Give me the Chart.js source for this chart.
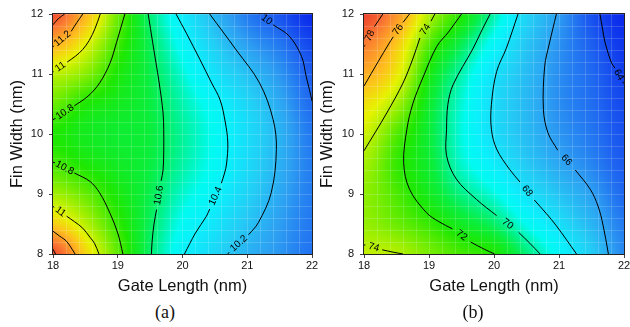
<!DOCTYPE html>
<html>
<head>
<meta charset="utf-8">
<script src="https://cdn.jsdelivr.net/npm/chart.js@4.4.1/dist/chart.umd.min.js"></script>
<style>
  html, body { margin: 0; padding: 0; background: #fff; }
  body { width: 630px; height: 327px; overflow: hidden; position: relative; }
  .box { position: absolute; top: 0; height: 300px; }
  #boxA { left: 0; width: 320px; }
  #boxB { left: 310px; width: 330px; }
  .cap { position: absolute; top: 302px; width: 60px; text-align: center;
         font-family: "Liberation Serif", serif; font-size: 18px; color: #111; }
</style>
</head>
<body>
<div class="box" id="boxA"><canvas id="chartA" width="320" height="300"></canvas></div>
<div class="box" id="boxB"><canvas id="chartB" width="330" height="300"></canvas></div>
<div class="cap" style="left:135px">(a)</div>
<div class="cap" style="left:443px">(b)</div>
<script>
/* ================= DATA ================= */
// grid nodes of the shaded field
const gateLength = [18, 18.5, 19, 19.5, 20, 20.5, 21, 21.5, 22];
const finWidth = [8, 8.5, 9, 9.5, 10, 10.5, 11, 11.5, 12];
const xTicks = [18, 19, 20, 21, 22];
const yTicks = [8, 9, 10, 11, 12];

// (a) values, one row per fin width (8 -> 12)
const fieldA = [
  [11.50, 11.12, 10.84, 10.600, 10.41, 10.30, 10.18, 10.10, 10.02],
  [11.14, 10.97, 10.78, 10.615, 10.45, 10.35, 10.23, 10.12, 10.03],
  [10.94, 10.85, 10.73, 10.630, 10.50, 10.41, 10.28, 10.15, 10.04],
  [10.81, 10.74, 10.69, 10.645, 10.54, 10.44, 10.31, 10.17, 10.04],
  [10.75, 10.70, 10.67, 10.650, 10.55, 10.45, 10.32, 10.18, 10.03],
  [10.86, 10.75, 10.70, 10.645, 10.53, 10.42, 10.29, 10.15, 10.00],
  [10.98, 10.90, 10.74, 10.635, 10.49, 10.34, 10.22, 10.10, 9.97],
  [11.22, 11.04, 10.80, 10.620, 10.43, 10.26, 10.12, 10.03, 9.92],
  [11.50, 11.20, 10.86, 10.590, 10.38, 10.19, 10.04, 9.95, 9.85]
];

// (b) values
const fieldB = [
  [74.2, 74.0, 73.2, 72.5, 72.0, 70.4, 68.9, 67.3, 65.5],
  [73.6, 73.0, 72.3, 71.4, 70.6, 69.2, 67.95, 66.6, 65.2],
  [73.5, 72.6, 71.5, 70.3, 69.4, 68.1, 67.0, 66.0, 64.8],
  [73.8, 72.3, 71.2, 69.6, 68.5, 67.2, 66.2, 65.4, 64.5],
  [74.4, 72.7, 71.1, 69.4, 67.9, 66.8, 65.8, 65.1, 64.3],
  [75.2, 73.8, 71.3, 69.5, 67.85, 66.7, 65.6, 64.9, 64.1],
  [76.5, 75.0, 71.8, 69.9, 68.1, 66.8, 65.6, 64.8, 63.9],
  [77.9, 75.8, 72.7, 70.8, 68.9, 67.1, 65.7, 64.6, 63.7],
  [79.4, 77.2, 74.0, 72.0, 69.9, 67.6, 65.95, 64.3, 63.4]
];

// contour lines, [gate length, fin width]; null = label gap
const a114top = [[18, 11.82], [18.08, 11.92], [18.18, 12]];
const a112top = [[18, 11.45], [18.01, 11.47], null, [18.28, 11.71], [18.37, 11.86], [18.46, 12]];
const a110top = [[18, 11.03], [18.01, 11.04], null, [18.22, 11.2], [18.35, 11.3], [18.46, 11.41], [18.56, 11.56], [18.65, 11.76], [18.73, 12]];
const a108top = [[18, 10.24], [18.04, 10.26], null, [18.33, 10.47], [18.54, 10.63], [18.72, 10.85], [18.88, 11.18], [18.98, 11.52], [19.05, 11.78], [19.11, 12]];
const a108bot = [[18, 9.53], [18.03, 9.52], null, [18.33, 9.35], [18.57, 9.21], [18.72, 9.02], [18.88, 8.68], [19.0, 8.35], [19.08, 8]];
const a110bot = [[18, 8.79], [18.02, 8.78], null, [18.21, 8.63], [18.33, 8.54], [18.46, 8.43], [18.57, 8.28], [18.64, 8.18], [18.71, 8]];
const a112bot = [[18, 8.38], [18.1, 8.3], [18.21, 8.21], [18.33, 8.02], [18.34, 8]];
const a114bot = [[18, 8.08], [18.04, 8]];
const a106 = [[19.47, 12], [19.54, 11.52], [19.64, 10.85], [19.7, 10.35], [19.71, 10.07], [19.71, 9.7], [19.7, 9.4], [19.67, 9.22], null, [19.6, 8.74], [19.56, 8.5], [19.53, 8.2], [19.52, 8]];
const a104 = [[19.9, 12], [20.06, 11.68], [20.27, 11.24], [20.45, 10.85], [20.58, 10.57], [20.66, 10.2], [20.7, 9.85], [20.68, 9.5], [20.65, 9.35], [20.6, 9.18], null, [20.42, 8.75], [20.37, 8.63], [20.2, 8.35], [20.03, 8]];
const a102 = [[20.42, 12], [20.83, 11.4], [21.19, 10.85], [21.4, 10.24], [21.45, 9.74], [21.37, 9.02], [21.17, 8.52], [21.02, 8.32], null, [20.72, 8.03], [20.7, 8]];
const a100 = [[21.19, 12], [21.2, 11.99], null, [21.4, 11.82], [21.65, 11.63], [21.84, 11.29], [21.91, 10.96], [21.96, 10.74], [22, 10.55]];

const b78 = [[18, 11.46], [18.02, 11.48], null, [18.16, 11.79], [18.29, 12]];
const b76 = [[18, 10.8], [18.22, 11.21], [18.38, 11.5], [18.45, 11.62], null, [18.6, 11.86], [18.7, 12]];
const b74top = [[18, 9.72], [18.35, 10.35], [18.6, 10.85], [18.75, 11.25], [18.86, 11.6], null, [19.03, 11.88], [19.09, 12]];
const b74bot = [[18, 8.15], [18.02, 8.15], null, [18.28, 8.07], [18.45, 8.03], [18.6, 8]];
const b72 = [[19.5, 12], [19.3, 11.7], [19.12, 11.46], [18.91, 10.95], [18.75, 10.5], [18.66, 10.08], [18.61, 9.52], [18.7, 9.08], [18.96, 8.69], [19.15, 8.54], [19.36, 8.42], null, [19.64, 8.2], [19.85, 8.08], [20.01, 8]];
const b70 = [[19.94, 12], [19.8, 11.7], [19.68, 11.43], [19.37, 10.82], [19.29, 10.49], [19.27, 10.08], [19.27, 9.64], [19.42, 9.25], [19.73, 8.91], [20.04, 8.64], null, [20.38, 8.36], [20.55, 8.18], [20.71, 8]];
const b68 = [[20.37, 12], [20.19, 11.43], [20.04, 11.04], [19.96, 10.49], [19.96, 10.08], [20.04, 9.75], [20.24, 9.41], [20.4, 9.2], null, [20.62, 8.9], [20.8, 8.68], [20.96, 8.47], [21.27, 8]];
const b66 = [[20.96, 12], [20.85, 11.5], [20.78, 11.13], [20.76, 10.41], [20.83, 10.02], [20.98, 9.73], null, [21.25, 9.4], [21.48, 9.08], [21.6, 8.8], [21.68, 8.47], [21.76, 8]];
const b64 = [[21.63, 12], [21.67, 11.75], [21.71, 11.52], [21.81, 11.18], [21.86, 11.1], null, [21.98, 10.87], [22, 10.84]];

const contoursA = [
  ["11.4", a114top], ["11.2", a112top], ["11", a110top], ["10.8", a108top],
  ["10.8", a108bot], ["11", a110bot], ["11.2", a112bot], ["11.4", a114bot],
  ["10.6", a106], ["10.4", a104], ["10.2", a102], ["10", a100]
];
const contoursB = [
  ["78", b78], ["76", b76], ["74", b74top], ["74", b74bot], ["72", b72],
  ["70", b70], ["68", b68], ["66", b66], ["64", b64]
];

/* ================= COLOUR MAP ================= */
const stops = [
  [0.00, [10, 40, 235]],
  [0.08, [30, 100, 240]],
  [0.16, [45, 160, 242]],
  [0.24, [35, 205, 245]],
  [0.32, [10, 240, 252]],
  [0.36, [0, 250, 240]],
  [0.42, [0, 242, 140]],
  [0.47, [10, 238, 60]],
  [0.53, [30, 232, 0]],
  [0.62, [140, 238, 0]],
  [0.70, [230, 242, 0]],
  [0.78, [255, 190, 30]],
  [0.90, [250, 120, 50]],
  [1.00, [235, 60, 45]]
];

function colorAt(t) {
  t = Math.max(0, Math.min(1, t));
  for (let i = 1; i < stops.length; i++) {
    if (t <= stops[i][0]) {
      const [t0, c0] = stops[i - 1], [t1, c1] = stops[i];
      const k = (t - t0) / (t1 - t0);
      return c0.map((c, j) => c + (c1[j] - c) * k);
    }
  }
  return stops[stops.length - 1][1];
}

// smooth shading between grid nodes (catmull-rom)
function cubic(p0, p1, p2, p3, t) {
  return p1 + 0.5 * t * (p2 - p0 + t * (2 * p0 - 5 * p1 + 4 * p2 - p3 + t * (3 * (p1 - p2) + p3 - p0)));
}
function sample(f, gx, gy) {
  const rows = f.length, cols = f[0].length;
  const at = (r, c) => f[Math.max(0, Math.min(rows - 1, r))][Math.max(0, Math.min(cols - 1, c))];
  const ix = Math.max(0, Math.min(cols - 2, Math.floor(gx)));
  const iy = Math.max(0, Math.min(rows - 2, Math.floor(gy)));
  const tx = gx - ix, ty = gy - iy;
  const r = [];
  for (let k = -1; k <= 2; k++) {
    r.push(cubic(at(iy + k, ix - 1), at(iy + k, ix), at(iy + k, ix + 1), at(iy + k, ix + 2), tx));
  }
  return cubic(r[0], r[1], r[2], r[3], ty);
}

/* ================= PLUGINS ================= */
const heatmap = {
  id: "heatmap",
  beforeDatasetsDraw(chart, args, opts) {
    const { ctx, chartArea: a, scales: { x, y } } = chart;
    const w = Math.round(a.right - a.left), h = Math.round(a.bottom - a.top);
    const off = document.createElement("canvas");
    off.width = w; off.height = h;
    const octx = off.getContext("2d");
    const img = octx.createImageData(w, h);
    const dx = gateLength[1] - gateLength[0], dy = finWidth[1] - finWidth[0];
    for (let j = 0; j < h; j++) {
      const gy = (y.getValueForPixel(a.top + j + 0.5) - finWidth[0]) / dy;
      for (let i = 0; i < w; i++) {
        const gx = (x.getValueForPixel(a.left + i + 0.5) - gateLength[0]) / dx;
        const v = sample(opts.field, gx, gy);
        const c = colorAt((v - opts.min) / (opts.max - opts.min));
        const p = (j * w + i) * 4;
        img.data[p] = c[0]; img.data[p + 1] = c[1]; img.data[p + 2] = c[2]; img.data[p + 3] = 255;
      }
    }
    octx.putImageData(img, 0, 0);
    ctx.drawImage(off, a.left, a.top);

    // faint white mesh
    ctx.save();
    ctx.strokeStyle = "rgba(255,255,255,0.16)";
    ctx.lineWidth = 1;
    ctx.beginPath();
    for (let v = 18.2; v < 22; v += 0.2) {
      const px = Math.round(x.getPixelForValue(v)) + 0.5;
      ctx.moveTo(px, a.top); ctx.lineTo(px, a.bottom);
    }
    for (let v = 8.2; v < 12; v += 0.2) {
      const py = Math.round(y.getPixelForValue(v)) + 0.5;
      ctx.moveTo(a.left, py); ctx.lineTo(a.right, py);
    }
    ctx.stroke();
    ctx.restore();
  },
  afterDatasetsDraw(chart, args, opts) {
    const { ctx, chartArea: a, scales: { x, y } } = chart;
    ctx.save();
    ctx.font = "10px 'Liberation Sans', Arial, sans-serif";
    ctx.fillStyle = "#000";
    ctx.textAlign = "center";
    ctx.textBaseline = "middle";
    opts.contours.forEach(([label, pts]) => {
      pts.forEach((p, i) => {
        if (p !== null) return;
        const p0 = pts[i - 1], p1 = pts[i + 1];
        const x0 = x.getPixelForValue(p0[0]), y0 = y.getPixelForValue(p0[1]);
        const x1 = x.getPixelForValue(p1[0]), y1 = y.getPixelForValue(p1[1]);
        let ang = Math.atan2(y1 - y0, x1 - x0);
        if (ang >= Math.PI / 2) ang -= Math.PI;
        if (ang < -Math.PI / 2) ang += Math.PI;
        ctx.save();
        ctx.translate((x0 + x1) / 2, (y0 + y1) / 2);
        ctx.rotate(ang);
        ctx.fillText(label, 0, 0);
        ctx.restore();
      });
    });
    ctx.strokeStyle = "#222";
    ctx.lineWidth = 1;
    ctx.strokeRect(Math.round(a.left) - 0.5, Math.round(a.top) - 0.5,
      Math.round(a.right - a.left) + 1, Math.round(a.bottom - a.top) + 1);
    ctx.restore();
  }
};

/* ================= CHARTS ================= */
function lineSets(contours) {
  const sets = [];
  contours.forEach(([label, pts]) => {
    let seg = [];
    pts.concat([null]).forEach(p => {
      if (p === null) {
        if (seg.length > 1) sets.push(seg);
        seg = [];
      } else {
        seg.push({ x: p[0], y: p[1] });
      }
    });
  });
  return sets.map(data => ({
    data,
    showLine: true,
    borderColor: "#000",
    borderWidth: 1,
    pointRadius: 0,
    tension: 0.35
  }));
}

const font = { family: "'Liberation Sans', Arial, sans-serif" };

function makeChart(id, field, min, max, contours, yWidth, padRight) {
  return new Chart(document.getElementById(id), {
    type: "scatter",
    data: { datasets: lineSets(contours) },
    options: {
      responsive: false,
      animation: false,
      layout: { padding: { top: 14, right: padRight, left: 0, bottom: 0 } },
      plugins: {
        legend: { display: false },
        tooltip: { enabled: false },
        heatmap: { field, min, max, contours }
      },
      scales: {
        x: {
          type: "linear",
          min: 18, max: 22,
          afterBuildTicks: s => { s.ticks = xTicks.map(v => ({ value: v })); },
          afterFit: s => { s.height = 46; },
          grid: { drawOnChartArea: false, tickLength: 4, color: "#444" },
          border: { display: false },
          ticks: { padding: 1, color: "#111", font: { ...font, size: 11 }, maxRotation: 0 },
          title: { display: true, text: "Gate Length (nm)", color: "#111",
                   font: { ...font, size: 16.5 }, padding: { top: 0, bottom: 4 } }
        },
        y: {
          type: "linear",
          min: 8, max: 12,
          afterBuildTicks: s => { s.ticks = yTicks.map(v => ({ value: v })); },
          afterFit: s => { s.width = yWidth; },
          grid: { drawOnChartArea: false, tickLength: 4, color: "#444" },
          border: { display: false },
          ticks: { padding: 6, color: "#111", font: { ...font, size: 11 } },
          title: { display: true, text: "Fin Width (nm)", color: "#111",
                   font: { ...font, size: 16.5 }, padding: { top: 8, bottom: 0 } }
        }
      }
    },
    plugins: [heatmap]
  });
}

window.onload = () => {
  makeChart("chartA", fieldA, 9.85, 11.55, contoursA, 53, 8);
  makeChart("chartB", fieldB, 63.4, 79.6, contoursB, 54, 16);
};
</script>
</body>
</html>
